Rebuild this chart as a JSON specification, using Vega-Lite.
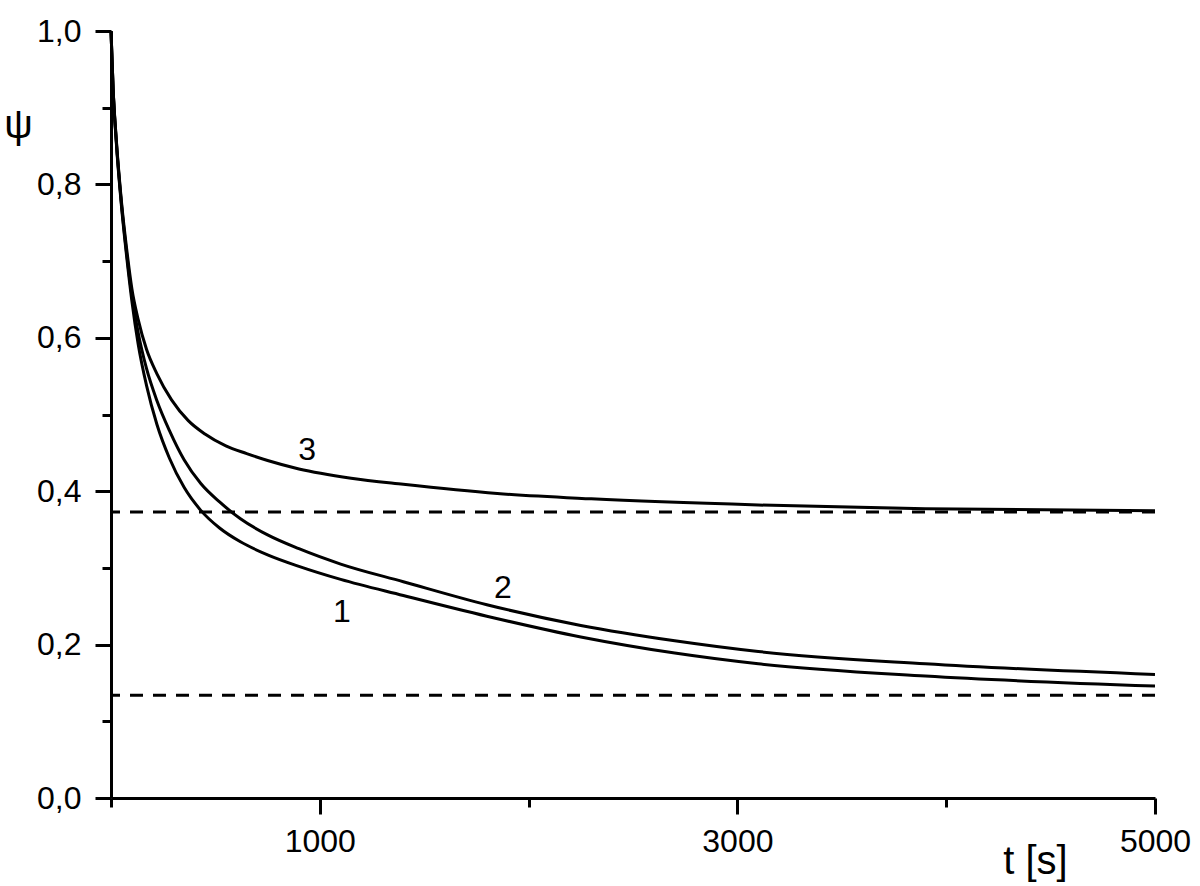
{
  "$schema": "https://vega.github.io/schema/vega-lite/v6.json",
  "autosize": "none",
  "width": 1044,
  "height": 767,
  "padding": {"left": 111, "top": 31, "right": 45, "bottom": 88},
  "background": "white",
  "config": {
    "view": {"stroke": null},
    "font": "Liberation Sans",
    "axis": {
      "domainColor": "black", "domainWidth": 3, "tickColor": "black", "tickWidth": 3,
      "labelColor": "black", "titleColor": "black", "labelFont": "Liberation Sans", "titleFont": "Liberation Sans",
      "labelFontSize": 32, "titleFontWeight": "normal", "grid": false, "labelOverlap": false, "labelFlush": false
    }
  },
  "datasets": {
    "curves": [
      {"curve": "1", "t": 0, "psi": 1.0}, {"curve": "1", "t": 10, "psi": 0.925}, {"curve": "1", "t": 25, "psi": 0.856},
      {"curve": "1", "t": 50, "psi": 0.772}, {"curve": "1", "t": 75, "psi": 0.706}, {"curve": "1", "t": 100, "psi": 0.648},
      {"curve": "1", "t": 130, "psi": 0.592}, {"curve": "1", "t": 170, "psi": 0.538}, {"curve": "1", "t": 220, "psi": 0.487},
      {"curve": "1", "t": 280, "psi": 0.443}, {"curve": "1", "t": 350, "psi": 0.405}, {"curve": "1", "t": 430, "psi": 0.375},
      {"curve": "1", "t": 520, "psi": 0.352}, {"curve": "1", "t": 620, "psi": 0.334}, {"curve": "1", "t": 750, "psi": 0.317},
      {"curve": "1", "t": 900, "psi": 0.302}, {"curve": "1", "t": 1100, "psi": 0.285}, {"curve": "1", "t": 1400, "psi": 0.264},
      {"curve": "1", "t": 1800, "psi": 0.237}, {"curve": "1", "t": 2250, "psi": 0.21}, {"curve": "1", "t": 2700, "psi": 0.189},
      {"curve": "1", "t": 3100, "psi": 0.175}, {"curve": "1", "t": 3900, "psi": 0.159}, {"curve": "1", "t": 5000, "psi": 0.146},
      {"curve": "2", "t": 0, "psi": 1.0}, {"curve": "2", "t": 10, "psi": 0.925}, {"curve": "2", "t": 25, "psi": 0.858},
      {"curve": "2", "t": 50, "psi": 0.775}, {"curve": "2", "t": 75, "psi": 0.71}, {"curve": "2", "t": 100, "psi": 0.655},
      {"curve": "2", "t": 130, "psi": 0.607}, {"curve": "2", "t": 170, "psi": 0.56}, {"curve": "2", "t": 220, "psi": 0.518},
      {"curve": "2", "t": 280, "psi": 0.479}, {"curve": "2", "t": 350, "psi": 0.441}, {"curve": "2", "t": 430, "psi": 0.41},
      {"curve": "2", "t": 520, "psi": 0.386}, {"curve": "2", "t": 620, "psi": 0.364}, {"curve": "2", "t": 750, "psi": 0.343},
      {"curve": "2", "t": 900, "psi": 0.325}, {"curve": "2", "t": 1100, "psi": 0.305}, {"curve": "2", "t": 1400, "psi": 0.282},
      {"curve": "2", "t": 1800, "psi": 0.252}, {"curve": "2", "t": 2250, "psi": 0.225}, {"curve": "2", "t": 2700, "psi": 0.205},
      {"curve": "2", "t": 3100, "psi": 0.191}, {"curve": "2", "t": 3900, "psi": 0.175}, {"curve": "2", "t": 5000, "psi": 0.161},
      {"curve": "3", "t": 0, "psi": 1.0}, {"curve": "3", "t": 10, "psi": 0.926}, {"curve": "3", "t": 25, "psi": 0.86},
      {"curve": "3", "t": 50, "psi": 0.778}, {"curve": "3", "t": 75, "psi": 0.716}, {"curve": "3", "t": 100, "psi": 0.664},
      {"curve": "3", "t": 130, "psi": 0.624}, {"curve": "3", "t": 170, "psi": 0.585}, {"curve": "3", "t": 220, "psi": 0.553},
      {"curve": "3", "t": 290, "psi": 0.519}, {"curve": "3", "t": 370, "psi": 0.492}, {"curve": "3", "t": 450, "psi": 0.4745},
      {"curve": "3", "t": 550, "psi": 0.459}, {"curve": "3", "t": 650, "psi": 0.449}, {"curve": "3", "t": 750, "psi": 0.44},
      {"curve": "3", "t": 900, "psi": 0.429}, {"curve": "3", "t": 1150, "psi": 0.417}, {"curve": "3", "t": 1400, "psi": 0.409},
      {"curve": "3", "t": 1850, "psi": 0.397}, {"curve": "3", "t": 2300, "psi": 0.39}, {"curve": "3", "t": 3100, "psi": 0.382},
      {"curve": "3", "t": 3900, "psi": 0.377}, {"curve": "3", "t": 5000, "psi": 0.3745}
    ],
    "levels": [{"level": 0.373}, {"level": 0.134}],
    "labels": [
      {"text": "1", "t": 1106, "psi": 0.2425},
      {"text": "2", "t": 1877, "psi": 0.2738},
      {"text": "3", "t": 939, "psi": 0.4537}
    ]
  },
  "layer": [
    {
      "data": {"name": "levels"},
      "mark": {"type": "rule", "color": "black", "strokeWidth": 3, "strokeDash": [13, 10]},
      "encoding": {
        "y": {"field": "level", "type": "quantitative", "scale": {"domain": [0, 1]}}
      }
    },
    {
      "data": {"name": "curves"},
      "mark": {"type": "line", "color": "black", "strokeWidth": 3, "interpolate": "monotone"},
      "encoding": {
        "x": {
          "field": "t", "type": "quantitative", "scale": {"domain": [0, 5000], "nice": false},
          "axis": {
            "values": [0, 1000, 2000, 3000, 4000, 5000],
            "labelExpr": "datum.value % 2000 == 1000 ? '' + datum.value : ''",
            "tickSize": {"condition": {"test": "datum.value % 2000 == 1000", "value": 16}, "value": 9},
            "labelPadding": 12,
            "title": "t [s]", "titleFontSize": 40, "titleX": 924, "titleY": 63,
            "titleAlign": "center", "titleBaseline": "middle", "titleAngle": 0
          }
        },
        "y": {
          "field": "psi", "type": "quantitative", "scale": {"domain": [0, 1], "nice": false},
          "axis": {
            "values": [0, 0.1, 0.2, 0.3, 0.4, 0.5, 0.6, 0.7, 0.8, 0.9, 1.0],
            "labelExpr": "round(datum.value * 10) % 2 == 0 ? replace(format(datum.value, '.1f'), '.', ',') : ''",
            "tickSize": {"condition": {"test": "round(datum.value * 10) % 2 == 0", "value": 16}, "value": 9},
            "labelPadding": 14,
            "title": "ψ", "titleFontSize": 40, "titleAngle": 0, "titleX": -93, "titleY": 94,
            "titleAlign": "center", "titleBaseline": "middle"
          }
        },
        "detail": {"field": "curve", "type": "nominal"}
      }
    },
    {
      "data": {"name": "labels"},
      "mark": {"type": "text", "fontSize": 32, "color": "black", "align": "center", "baseline": "middle", "font": "Liberation Sans"},
      "encoding": {
        "x": {"field": "t", "type": "quantitative"},
        "y": {"field": "psi", "type": "quantitative"},
        "text": {"field": "text", "type": "nominal"}
      }
    }
  ]
}
